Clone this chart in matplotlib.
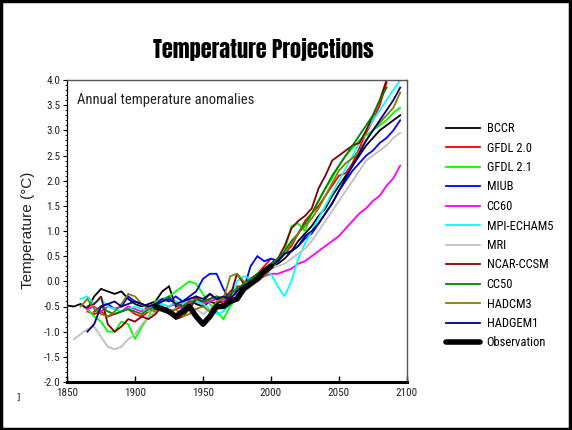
import numpy as np
import matplotlib
matplotlib.use("Agg")
import matplotlib.pyplot as plt
from matplotlib import font_manager
from matplotlib.patches import Rectangle
from matplotlib.ticker import MultipleLocator

nan = np.nan
years = np.arange(1850, 2100, 5)

# Model projections, 5-year sampled anomalies (deg C); nan = no data
bccr = [-0.48, -0.5, -0.45, -0.55, -0.3, -0.15, -0.2, -0.25, -0.2, -0.35,
        -0.45, -0.5, -0.45, -0.4, -0.2, -0.1, -0.5, -0.45, -0.35, -0.45,
        -0.5, -0.4, -0.45, -0.35, -0.3, -0.15, -0.1, 0.0, 0.1, 0.2,
        0.3, 0.35, 0.45, 0.6, 0.8, 0.95, 1.1, 1.3, 1.45, 1.7,
        1.9, 2.1, 2.3, 2.5, 2.7, 2.85, 3.0, 3.1, 3.2, 3.3]
gfdl20 = [nan, nan, nan, -0.6, -0.65, -0.6, -0.7, -0.65, -0.6, -0.55,
          -0.65, -0.7, -0.6, -0.55, -0.5, -0.65, -0.55, -0.5, -0.4, -0.3,
          -0.45, -0.35, -0.3, -0.35, -0.2, -0.1, -0.1, 0.05, 0.15, 0.3,
          0.45, 0.4, 0.55, 0.7, 0.95, 1.2, 1.35, 1.5, 1.7, 1.9,
          2.1, 2.15, 2.35, 2.65, 2.95, 3.2, 3.5, 3.95, nan, nan]
gfdl21 = [nan, nan, nan, -0.55, -0.7, -0.8, -1.0, -1.0, -0.8, -0.85,
          -1.15, -0.9, -0.7, -0.4, -0.35, -0.3, -0.2, -0.1, 0.0, -0.05,
          -0.25, -0.45, -0.6, -0.75, -0.5, -0.3, -0.15, 0.05, 0.1, 0.2,
          0.3, 0.45, 0.6, 1.1, 1.15, 1.0, 1.35, 1.6, 1.85, 2.05,
          2.3, 2.5, 2.65, 2.8, 2.9, 3.0, 3.1, 3.2, 3.35, 3.45]
miub = [nan, nan, nan, nan, -0.6, -0.5, -0.45, -0.55, -0.5, -0.3,
        -0.4, -0.45, -0.5, -0.45, -0.35, -0.4, -0.3, -0.4, -0.3, -0.2,
        0.05, 0.15, 0.15, -0.15, -0.4, -0.3, -0.15, 0.3, 0.5, 0.4,
        0.45, 0.4, 0.55, 0.6, 0.7, 0.85, 0.95, 1.15, 1.35, 1.55,
        1.8, 2.0, 2.2, 2.35, 2.5, 2.6, 2.75, 2.85, 3.0, 3.2]
cc60 = [nan, nan, nan, -0.55, -0.5, -0.6, -0.5, -0.55, -0.6, -0.5,
        -0.55, -0.6, -0.5, -0.45, -0.55, -0.5, -0.45, -0.55, -0.45, -0.4,
        -0.45, -0.4, -0.35, -0.4, -0.3, -0.25, -0.15, -0.05, 0.05, 0.1,
        0.15, 0.15, 0.2, 0.25, 0.35, 0.4, 0.5, 0.6, 0.7, 0.8,
        0.9, 1.05, 1.2, 1.35, 1.45, 1.6, 1.7, 1.9, 2.05, 2.3]
mpi = [nan, nan, -0.35, -0.3, -0.45, -0.35, -0.5, -0.55, -0.6, -0.55,
       -0.5, -0.55, -0.6, -0.5, -0.45, -0.5, -0.4, -0.45, -0.35, -0.4,
       -0.45, -0.55, -0.65, -0.6, -0.45, 0.0, 0.1, 0.05, 0.1, 0.2,
       0.15, -0.1, -0.3, 0.0, 0.45, 0.75, 1.0, 1.25, 1.5, 1.75,
       2.0, 2.25, 2.5, 2.75, 3.0, 3.2, 3.4, 3.6, 3.8, 4.0]
mri = [nan, -1.15, -1.05, -0.95, -0.9, -1.1, -1.3, -1.35, -1.3, -1.15,
       -1.05, -0.85, -0.7, -0.6, -0.55, -0.65, -0.7, -0.6, -0.5, -0.55,
       -0.65, -0.55, -0.5, -0.45, -0.4, -0.3, -0.2, -0.05, 0.05, 0.15,
       0.25, 0.3, 0.35, 0.45, 0.55, 0.65, 0.8, 1.0, 1.2, 1.4,
       1.6, 1.8, 2.0, 2.2, 2.4, 2.5, 2.6, 2.7, 2.85, 2.95]
ncar = [nan, nan, nan, -0.5, -0.45, -0.3, -0.85, -1.0, -0.9, -0.75,
        -0.8, -0.7, -0.75, -0.65, -0.5, -0.6, -0.75, -0.7, -0.55, -0.35,
        -0.4, -0.25, -0.35, -0.45, -0.3, 0.15, -0.05, 0.0, 0.1, 0.2,
        0.35, 0.45, 0.7, 1.05, 1.2, 1.3, 1.45, 1.85, 2.1, 2.4,
        2.5, 2.6, 2.7, 2.75, 3.0, 3.3, 3.6, 4.0, nan, nan]
cc50 = [nan, nan, nan, nan, -0.6, -0.5, -0.6, -0.65, -0.6, -0.55,
        -0.6, -0.65, -0.55, -0.5, -0.4, -0.3, -0.45, -0.5, -0.45, -0.35,
        -0.4, -0.35, -0.3, -0.35, -0.25, -0.15, -0.05, 0.05, 0.15, 0.25,
        0.35, 0.45, 0.6, 0.8, 0.95, 1.15, 1.35, 1.6, 1.85, 2.1,
        2.3, 2.5, 2.7, 2.9, 3.1, 3.3, 3.6, 3.85, nan, nan]
hadcm3 = [nan, nan, -0.5, -0.35, -0.55, -0.65, -0.7, -0.6, -0.45, -0.25,
          -0.3, -0.45, -0.55, -0.6, -0.5, -0.6, -0.55, -0.7, -0.65, -0.55,
          -0.5, -0.6, -0.4, -0.35, 0.1, 0.15, 0.0, -0.05, 0.0, 0.1,
          0.25, 0.4, 0.55, 0.75, 0.95, 1.1, 1.25, 1.45, 1.7, 1.95,
          2.2, 2.35, 2.45, 2.6, 2.8, 3.0, 3.15, 3.3, 3.45, 3.75]
hadgem1 = [nan, nan, nan, -1.0, -0.85, -0.5, -0.45, -0.4, -0.5, -0.45,
           -0.4, -0.45, -0.5, -0.45, -0.4, -0.35, -0.45, -0.4, -0.35, -0.3,
           -0.35, -0.25, -0.35, -0.3, -0.35, -0.2, -0.1, 0.0, 0.1, 0.2,
           0.3, 0.4, 0.55, 0.6, 0.7, 0.9, 1.0, 1.15, 1.35, 1.55,
           1.8, 2.05, 2.3, 2.55, 2.8, 3.0, 3.2, 3.4, 3.6, 3.85]

obs_years = np.arange(1915, 2005, 5)
observation = [-0.5, -0.55, -0.6, -0.7, -0.6, -0.5, -0.7, -0.85, -0.7, -0.5,
               -0.5, -0.4, -0.35, -0.15, -0.05, 0.05, 0.2, 0.3]

model_names = ["BCCR", "GFDL 2.0", "GFDL 2.1", "MIUB", "CC60", "MPI-ECHAM5",
               "MRI", "NCAR-CCSM", "CC50", "HADCM3", "HADGEM1"]
model_series = [bccr, gfdl20, gfdl21, miub, cc60, mpi, mri, ncar, cc50,
                hadcm3, hadgem1]
model_colors = ["#000000", "#ff0000", "#00ff00", "#0000ff", "#ff00ff",
                "#00ffff", "#c0c0c0", "#800000", "#008000", "#808000",
                "#000080"]

x_ticks = [1850, 1900, 1950, 2000, 2050, 2100]
y_ticks = np.arange(-2.0, 4.01, 0.5)

# pick the narrowest installed faces for the title and the small labels
installed = {f.name for f in font_manager.fontManager.ttflist}


def first_installed(names, fallback):
    for n in names:
        if n in installed:
            return [n, fallback]
    return [fallback]


title_family = first_installed(["Impact", "Anton", "Oswald", "Bebas Neue",
                                "Roboto Condensed", "Open Sans Condensed",
                                "Liberation Sans Narrow", "DejaVu Sans Condensed",
                                "Liberation Sans"], "DejaVu Sans")
narrow_family = first_installed(["Liberation Sans Narrow", "Arial Narrow",
                                 "Roboto Condensed", "Liberation Sans"], "DejaVu Sans")
plain_family = first_installed(["Liberation Sans"], "DejaVu Sans")

fig = plt.figure(figsize=(5.72, 4.30), dpi=100)
fig.patch.set_facecolor("white")

ax = fig.add_axes([67 / 572, 1 - 382 / 430, (407 - 67) / 572, (382 - 80) / 430])

handles = []
for name, vals, col in zip(model_names, model_series, model_colors):
    (ln,) = ax.plot(years, vals, color=col, lw=1.3, label=name,
                    solid_joinstyle="miter")
    handles.append(ln)
(obs_ln,) = ax.plot(obs_years, observation, color="black", lw=4.0,
                    label="Observation", solid_capstyle="round")
handles.append(obs_ln)

ax.set_xlim(1850, 2100)
ax.set_ylim(-2.0, 4.0)
ax.set_xticks(x_ticks)
ax.set_yticks(y_ticks)
ax.set_yticklabels([f"{v:.1f}" for v in y_ticks])
ax.yaxis.set_minor_locator(MultipleLocator(0.1))

for lab in ax.get_xticklabels() + ax.get_yticklabels():
    lab.set_fontfamily(narrow_family)
    lab.set_fontsize(8)
    lab.set_color("#222222")

ax.tick_params(axis="x", direction="in", length=4, width=1, pad=4)
ax.tick_params(axis="y", direction="out", length=3, width=0.8, pad=2)
ax.tick_params(axis="y", which="minor", direction="out", length=1.5, width=0.6)

ax.spines["bottom"].set_linewidth(2.2)
ax.spines["left"].set_linewidth(0.9)
ax.spines["top"].set_color("#555555")
ax.spines["top"].set_linewidth(1.0)
ax.spines["right"].set_color("#555555")
ax.spines["right"].set_linewidth(1.0)

ax.text(0.03, 0.935, "Annual temperature anomalies", transform=ax.transAxes,
        fontsize=10.5, color="#222222", ha="left", va="center",
        family=narrow_family)

fig.text(28 / 572, 1 - 230 / 430, "Temperature (°C)", rotation=90,
         fontsize=11, ha="center", va="center", color="#222222",
         family=plain_family)

title = fig.text(263 / 572, 1 - 50 / 430, "Temperature Projections", fontsize=16,
                 fontweight="bold", ha="center", va="center", color="black",
                 family=title_family)

fig.legend(handles=handles, labels=model_names + ["Observation"],
           loc="upper left", bbox_to_anchor=(441 / 572, 1 - 117 / 430),
           frameon=False, handlelength=2.7, handletextpad=0.55,
           labelspacing=0.52, borderaxespad=0,
           prop=dict(family=narrow_family, size=9))

fig.text(18 / 572, 1 - 397 / 430, "]", fontsize=6, ha="center", va="center")

fig.patches.append(Rectangle((0.002, 0.003), 0.994, 0.994, transform=fig.transFigure,
                             fill=False, edgecolor="black", linewidth=2.5))

# squeeze the title to its natural width if only a wide face is available
fig.canvas.draw()
bb = title.get_window_extent()
target_w = 226
if bb.width > target_w * 1.08:
    title.set_fontsize(16 * target_w / bb.width * 1.05)

fig.savefig("out.png", dpi=100)
